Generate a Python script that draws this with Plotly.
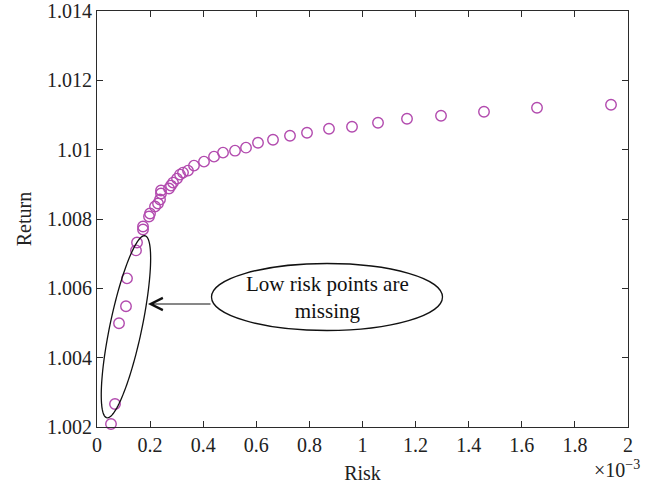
import numpy as np
import plotly.graph_objects as go

# Data (risk in units of 1e-3, return)
risk = [0.0527, 0.0678, 0.0829, 0.1092, 0.1130, 0.1469, 0.1507, 0.1733, 0.1733, 0.1959,
        0.1996, 0.2185, 0.2298, 0.2373, 0.2411, 0.2411, 0.2712, 0.2787, 0.2863, 0.3013,
        0.3126, 0.3239, 0.3427, 0.3653, 0.4030, 0.4407, 0.4746, 0.5198, 0.5612, 0.6064,
        0.6629, 0.7269, 0.7910, 0.8738, 0.9605, 1.0584, 1.1676, 1.2957, 1.4576, 1.6573,
        1.9360]
risk = [r * 1e-3 for r in risk]
ret = [1.002086, 1.002662, 1.004993, 1.005482, 1.006288, 1.007094, 1.007324, 1.007698, 1.007784, 1.008072,
       1.008158, 1.008360, 1.008446, 1.008561, 1.008734, 1.008820, 1.008878, 1.008964, 1.009050, 1.009165,
       1.009281, 1.009338, 1.009396, 1.009540, 1.009655, 1.009799, 1.009914, 1.009971, 1.010058, 1.010201,
       1.010288, 1.010403, 1.010489, 1.010604, 1.010662, 1.010777, 1.010892, 1.010978, 1.011094, 1.011209,
       1.011295]

x_ticks = [i * 0.2e-3 for i in range(11)]
x_ticklabels = ["0", "0.2", "0.4", "0.6", "0.8", "1", "1.2", "1.4", "1.6", "1.8", "2"]
y_ticks = [1.002, 1.004, 1.006, 1.008, 1.010, 1.012, 1.014]
y_ticklabels = ["1.002", "1.004", "1.006", "1.008", "1.01", "1.012", "1.014"]

W, H = 658, 490
ML, MR, MT, MB = 97, 30, 11, 63
XR = [0, 2e-3]
YR = [1.002, 1.014]
pw, ph = W - ML - MR, H - MT - MB
sx = pw / (XR[1] - XR[0])   # px per data unit
sy = ph / (YR[1] - YR[0])

FONT = "Liberation Serif, Times New Roman, serif"
COLOR = "#B24AAE"
AXC = "#2b2b2b"
FS = 20

fig = go.Figure()
fig.add_trace(go.Scatter(
    x=risk, y=ret, mode="markers",
    marker=dict(symbol="circle-open", size=10.5, color=COLOR, line=dict(width=1.4, color=COLOR)),
    showlegend=False, hoverinfo="skip", cliponaxis=False))

# Tilted ellipse around low-risk points (center in data coords, semi-axes in px)
cx, cy = 0.109e-3, 1.004892
a_px, b_px = 93, 16
ux, uy = 38 / 185.0, 181 / 185.0
vx, vy = uy, -ux
t = np.linspace(0, 2 * np.pi, 120)
px = a_px * np.cos(t) * ux + b_px * np.sin(t) * vx
py = a_px * np.cos(t) * uy + b_px * np.sin(t) * vy
ex = cx + px / sx
ey = cy + py / sy
path = "M " + " L ".join(f"{xx:.8f},{yy:.8f}" for xx, yy in zip(ex, ey)) + " Z"
fig.add_shape(type="path", path=path, xref="x", yref="y", line=dict(color="#111", width=1.3))

# Bubble ellipse
bx, by = 327, 297
bxc = XR[0] + (bx - ML) / sx
byc = YR[1] - (by - MT) / sy
fig.add_shape(type="circle", xref="x", yref="y",
              x0=bxc - 115.5 / sx, x1=bxc + 115.5 / sx,
              y0=byc - 33.5 / sy, y1=byc + 33.5 / sy,
              line=dict(color="#111", width=1.3))

# Arrow
ay_d = YR[1] - (304 - MT) / sy
fig.add_annotation(x=(148 - ML) / sx, y=ay_d, ax=(212 - ML) / sx, ay=ay_d,
                   xref="x", yref="y", axref="x", ayref="y", text="",
                   showarrow=True, arrowhead=5, arrowsize=2.4, arrowwidth=1, arrowcolor="#111")

fig.add_annotation(x=bxc, y=byc, xref="x", yref="y", text="Low risk points are<br>missing",
                   showarrow=False, font=dict(family=FONT, size=21, color="#111"), align="center")

# exponent label
fig.add_annotation(x=1.0, y=0, xref="paper", yref="paper", xanchor="right", yanchor="top",
                   xshift=14, yshift=-28, text="×10<sup>−3</sup>", showarrow=False,
                   font=dict(family=FONT, size=20, color="#222"))

axis_common = dict(showline=True, linecolor=AXC, linewidth=1, mirror="ticks", ticks="inside",
                   ticklen=6, tickcolor=AXC, tickwidth=1, showgrid=False, zeroline=False,
                   ticklabeloverflow="allow", automargin=False,
                   tickfont=dict(family=FONT, size=FS, color="#222"))
fig.update_xaxes(range=XR, tickvals=x_ticks, ticktext=x_ticklabels,
                 title=dict(text="Risk", font=dict(family=FONT, size=FS, color="#222"), standoff=10),
                 **axis_common)
fig.update_yaxes(range=YR, tickvals=y_ticks, ticktext=y_ticklabels,
                 title=dict(text="Return", font=dict(family=FONT, size=FS, color="#222"), standoff=10),
                 **axis_common)

fig.update_layout(width=W, height=H, margin=dict(l=ML, r=MR, t=MT, b=MB, autoexpand=False),
                  plot_bgcolor="white", paper_bgcolor="white")
fig.write_html("out.html")
